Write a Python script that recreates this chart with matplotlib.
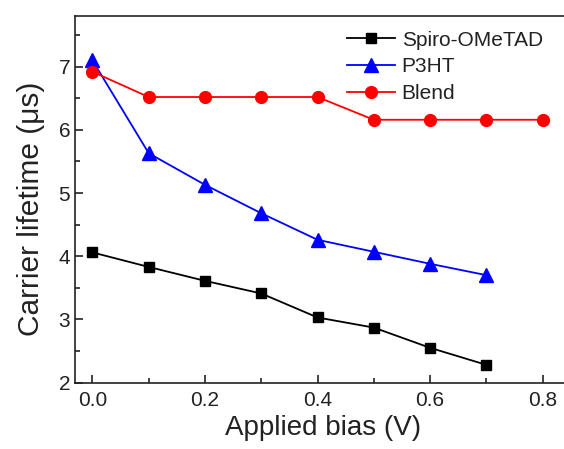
import matplotlib
matplotlib.use("Agg")
import matplotlib.pyplot as plt
from matplotlib.ticker import MultipleLocator

plt.rcParams['font.family'] = ['Liberation Sans', 'DejaVu Sans']

bias = [0.0, 0.1, 0.2, 0.3, 0.4, 0.5, 0.6, 0.7, 0.8]
spiro = [4.06, 3.83, 3.61, 3.41, 3.03, 2.87, 2.55, 2.28]
p3ht = [7.10, 5.63, 5.13, 4.68, 4.26, 4.07, 3.88, 3.70]
blend = [6.92, 6.52, 6.52, 6.52, 6.52, 6.16, 6.16, 6.16, 6.16]

fig = plt.figure(figsize=(5.64, 4.49), dpi=100)
ax = fig.add_axes([0.133, 0.148, 0.879, 0.816])

ax.plot(bias[:len(spiro)], spiro, color='black', marker='s', markersize=7.5,
        linewidth=1.3, label='Spiro-OMeTAD')
ax.plot(bias[:len(p3ht)], p3ht, color='#0000ff', marker='^', markersize=9.5,
        linewidth=1.3, label='P3HT')
ax.plot(bias[:len(blend)], blend, color='#ff0000', marker='o', markersize=8.5,
        linewidth=1.3, label='Blend')

ax.set_xlim(-0.031, 0.85)
ax.set_ylim(2, 7.8)
ax.xaxis.set_minor_locator(MultipleLocator(0.1))
ax.yaxis.set_major_locator(MultipleLocator(1))
ax.yaxis.set_minor_locator(MultipleLocator(0.5))
ax.set_xticks([0.0, 0.2, 0.4, 0.6, 0.8])
ax.set_xticklabels(['0.0', '0.2', '0.4', '0.6', '0.8'])

ax.tick_params(which='both', direction='in', colors='#222222', width=1.2,
               labelsize=15)
ax.tick_params(which='major', length=6)
ax.tick_params(which='minor', length=3.5)
ax.tick_params(axis='x', pad=6)
for s in ax.spines.values():
    s.set_linewidth(1.2)
    s.set_color('#222222')

ax.set_xlabel('Applied bias (V)', fontsize=20, color='#222222', labelpad=4)
ax.set_ylabel('Carrier lifetime (\u03bcs)', fontsize=21.5, color='#222222', labelpad=10)
ax.yaxis.label.set_y(0.473)

leg = ax.legend(loc='upper left', bbox_to_anchor=(0.52, 1.0), frameon=False,
                fontsize=15, handlelength=2.3, labelspacing=0.37,
                handletextpad=0.3, borderaxespad=0.3)
for t in leg.get_texts():
    t.set_color('#222222')

fig.savefig('out.png', dpi=100)
